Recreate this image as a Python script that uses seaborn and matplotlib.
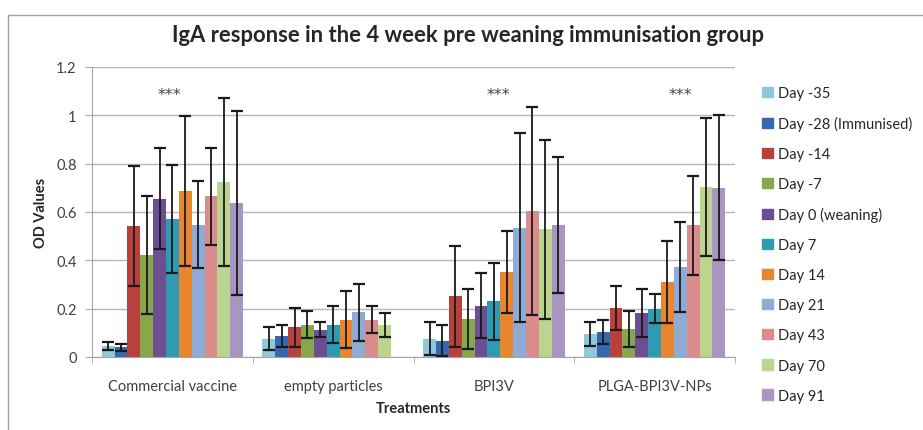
import numpy as np
import pandas as pd
import seaborn as sns
import matplotlib.pyplot as plt
from matplotlib.lines import Line2D

sns.set_style('white')
plt.rcParams['font.family'] = ['Lato', 'DejaVu Sans']

# ## Data
treatments = ['Commercial vaccine', 'empty particles', 'BPI3V', 'PLGA-BPI3V-NPs']
days = ['Day -35', 'Day -28 (Immunised)', 'Day -14', 'Day -7', 'Day 0 (weaning)',
        'Day 7', 'Day 14', 'Day 21', 'Day 43', 'Day 70', 'Day 91']
colors = ['#8FC8DA', '#3568B0', '#B8413E', '#86A84A', '#6C4E93', '#2F9BB3',
          '#E8862F', '#8EABD6', '#D98C8B', '#BBD590', '#A895C2']

# mean OD per treatment, one list per day
means = {
    'Day -35':             [0.045, 0.076, 0.076, 0.095],
    'Day -28 (Immunised)': [0.040, 0.087, 0.068, 0.102],
    'Day -14':             [0.541, 0.123, 0.251, 0.203],
    'Day -7':              [0.423, 0.134, 0.157, 0.116],
    'Day 0 (weaning)':     [0.655, 0.113, 0.212, 0.182],
    'Day 7':               [0.572, 0.134, 0.230, 0.199],
    'Day 14':              [0.687, 0.154, 0.352, 0.309],
    'Day 21':              [0.548, 0.185, 0.535, 0.372],
    'Day 43':              [0.665, 0.154, 0.605, 0.545],
    'Day 70':              [0.723, 0.131, 0.528, 0.702],
    'Day 91':              [0.637, np.nan, 0.546, 0.700],
}
errors = {
    'Day -35':             [0.015, 0.048, 0.068, 0.050],
    'Day -28 (Immunised)': [0.015, 0.047, 0.065, 0.050],
    'Day -14':             [0.248, 0.080, 0.210, 0.090],
    'Day -7':              [0.245, 0.056, 0.125, 0.075],
    'Day 0 (weaning)':     [0.210, 0.030, 0.135, 0.100],
    'Day 7':               [0.224, 0.075, 0.160, 0.060],
    'Day 14':              [0.310, 0.118, 0.170, 0.170],
    'Day 21':              [0.180, 0.118, 0.390, 0.185],
    'Day 43':              [0.200, 0.055, 0.430, 0.205],
    'Day 70':              [0.347, 0.050, 0.370, 0.285],
    'Day 91':              [0.380, np.nan, 0.280, 0.300],
}
signif = ['***', '', '***', '***']
signif_offset = [-0.02, 0, 0.03, 0.16]

rows = []
for d in days:
    for t, m, e in zip(treatments, means[d], errors[d]):
        rows.append([t, d, m, e])
df = pd.DataFrame(rows, columns=['Treatment', 'Day', 'OD', 'err'])

# ## Plot
fig = plt.figure(figsize=(9.23, 4.31), dpi=100)
ax = fig.add_axes([0.0997, 0.1694, 0.6966, 0.6729])

sns.barplot(data=df.dropna(), x='Treatment', y='OD', hue='Day', order=treatments,
            hue_order=days, palette=colors, width=0.88, errorbar=None,
            saturation=1, linewidth=0, ax=ax, legend=False)

for day, cont in zip(days, ax.containers):
    sub = df[df.Day == day].dropna()
    for patch, (_, r) in zip(cont.patches, sub.iterrows()):
        xc = patch.get_x() + patch.get_width() / 2
        ax.errorbar(xc, r.OD, yerr=r.err, fmt='none', ecolor='#1a1a1a',
                    elinewidth=1.3, capsize=4, capthick=1.6, zorder=5)

for i, (s, off) in enumerate(zip(signif, signif_offset)):
    if s:
        ax.text(i + off, 1.085, s, ha='center', va='center', fontsize=11.5,
                family='DejaVu Sans', color='#404040')

ax.set_xlim(-0.5, len(treatments) - 0.5)
ax.set_ylim(0, 1.2)
ax.set_yticks(np.arange(0, 1.21, 0.2))
ax.set_yticklabels(['0', '0.2', '0.4', '0.6', '0.8', '1', '1.2'])
ax.yaxis.grid(True, color='#B7B7B7', linewidth=1)
ax.set_axisbelow(True)
for side in ['top', 'right']:
    ax.spines[side].set_visible(False)
for side in ['left', 'bottom']:
    ax.spines[side].set_color('#A6A6A6')
ax.tick_params(axis='y', left=True, length=5, color='#A6A6A6', labelsize=10.5,
               labelcolor='#404040', pad=6)
ax.tick_params(axis='x', bottom=False, labelsize=10.5, labelcolor='#404040', pad=12)
ax.set_xticks(np.arange(-0.5, len(treatments)), minor=True)
ax.tick_params(axis='x', which='minor', bottom=True, length=4, color='#A6A6A6')

ax.set_xlabel('Treatments', fontsize=10.5, fontweight='bold', color='#262626', labelpad=6)
ax.set_ylabel('OD Values', fontsize=10.5, fontweight='bold', color='#262626', labelpad=6)

fig.text(0.507, 0.918, 'IgA response in the 4 week pre weaning immunisation group',
         ha='center', va='center', fontsize=15.8, fontweight='bold', color='#262626')

handles = [plt.Rectangle((0, 0), 1, 1, color=c) for c in colors]
fig.legend(handles, days, loc='upper left', bbox_to_anchor=(0.818, 0.815),
           frameon=False, fontsize=10.5, handlelength=0.7, handleheight=0.7,
           handletextpad=0.4, labelspacing=1.1, borderpad=0, labelcolor='#262626')

# outer chart frame
fig.add_artist(Line2D([8 / 923, 8 / 923], [0, 1 - 16 / 431], color='#A0A0A0', lw=1))
fig.add_artist(Line2D([8 / 923, 1], [1 - 16 / 431, 1 - 16 / 431], color='#A0A0A0', lw=1))

fig.savefig('out.png', dpi=100)
